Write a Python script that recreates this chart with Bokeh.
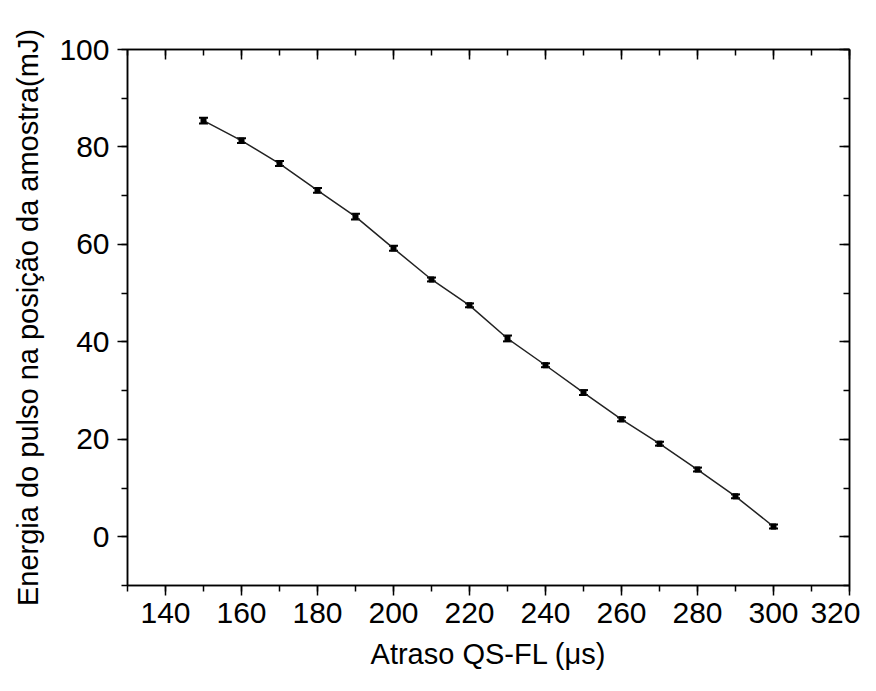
from bokeh.plotting import figure
from bokeh.models import LinearAxis, SingleIntervalTicker, Whisker, TeeHead, ColumnDataSource, Range1d, CustomJSTickFormatter
from bokeh.embed import file_html
from bokeh.resources import INLINE

delay_us = [150, 160, 170, 180, 190, 200, 210, 220, 230, 240, 250, 260, 270, 280, 290, 300]
energy_mJ = [85.4, 81.3, 76.6, 71.1, 65.7, 59.2, 52.8, 47.5, 40.7, 35.2, 29.6, 24.1, 19.1, 13.8, 8.3, 2.1]
energy_err = [0.6, 0.5, 0.5, 0.5, 0.6, 0.5, 0.4, 0.4, 0.6, 0.4, 0.5, 0.4, 0.4, 0.4, 0.4, 0.4]

x_label = "Atraso QS-FL (\u03bcs)"
y_label = "Energia do pulso na posi\u00e7\u00e3o da amostra(mJ)"

src = ColumnDataSource(dict(
    x=delay_us, y=energy_mJ,
    upper=[v + e for v, e in zip(energy_mJ, energy_err)],
    lower=[v - e for v, e in zip(energy_mJ, energy_err)],
))

FONT = "Liberation Sans"

p = figure(width=860, height=675, output_backend="svg", toolbar_location=None,
           x_range=Range1d(130, 320), y_range=Range1d(-10, 100),
           x_axis_label=x_label, y_axis_label=y_label)
p.min_border_left = 127
p.min_border_top = 49
p.min_border_right = 11
p.min_border_bottom = 90
p.xgrid.visible = False
p.ygrid.visible = False
p.outline_line_color = "black"
p.outline_line_width = 1.5

for ax in (p.xaxis[0], p.yaxis[0]):
    ax.ticker = SingleIntervalTicker(interval=20, num_minor_ticks=2)
    ax.major_tick_out = 10
    ax.major_tick_in = 0
    ax.minor_tick_out = 6
    ax.minor_tick_in = 0
    ax.axis_line_width = 1.5
    ax.major_tick_line_width = 1.5
    ax.minor_tick_line_width = 1.5
    ax.major_label_text_font = FONT
    ax.major_label_text_font_size = "30px"
    ax.major_label_text_color = "black"
    ax.axis_label_text_font = FONT
    ax.axis_label_text_font_size = "29px"
    ax.axis_label_text_font_style = "normal"
    ax.axis_label_text_color = "black"

p.xaxis[0].major_label_standoff = 7
p.xaxis[0].axis_label_standoff = 12
p.yaxis[0].major_label_standoff = 8
p.yaxis[0].axis_label_standoff = 12

blank = CustomJSTickFormatter(code="return ''")
top = LinearAxis(ticker=SingleIntervalTicker(interval=20, num_minor_ticks=2), formatter=blank)
right = LinearAxis(ticker=SingleIntervalTicker(interval=20, num_minor_ticks=2), formatter=blank)
for ax in (top, right):
    ax.major_tick_in = 10
    ax.major_tick_out = 0
    ax.minor_tick_in = 6
    ax.minor_tick_out = 0
    ax.axis_line_width = 1.5
    ax.major_tick_line_width = 1.5
    ax.minor_tick_line_width = 1.5
    ax.major_label_standoff = 0
p.add_layout(top, "above")
p.add_layout(right, "right")

p.line("x", "y", source=src, line_color="#222222", line_width=1.5)
p.add_layout(Whisker(source=src, base="x", upper="upper", lower="lower",
                     line_color="black", line_width=1.5,
                     upper_head=TeeHead(size=9, line_width=2, line_color="black"),
                     lower_head=TeeHead(size=9, line_width=2, line_color="black")))
p.scatter("x", "y", source=src, marker="square", size=5, color="black")

open("out.html", "w").write(file_html(p, INLINE))
